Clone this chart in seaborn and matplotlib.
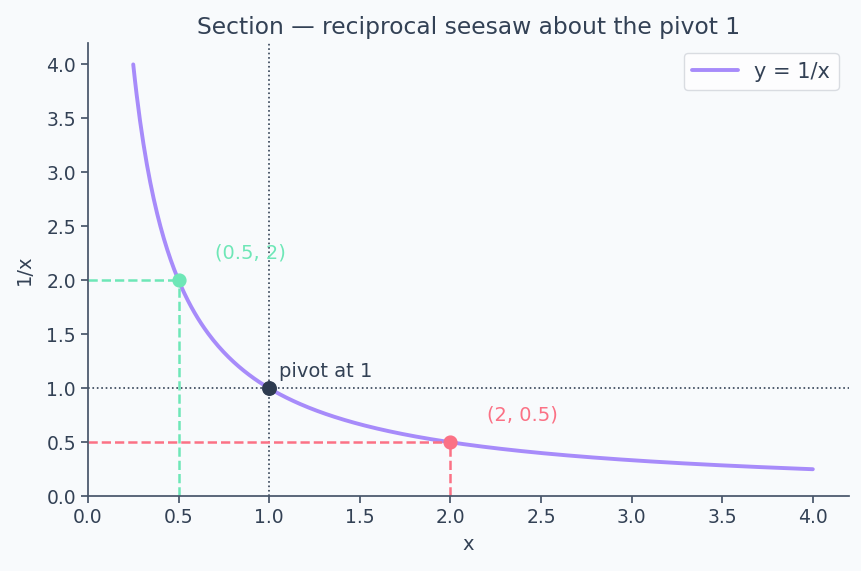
import numpy as np
import pandas as pd
import seaborn as sns
import matplotlib
matplotlib.use("Agg")
import matplotlib.pyplot as plt

# curve y = 1/x sampled on [0.25, 4]
x_start, x_end = 0.25, 4.0
# highlighted points
point_labels = ["(0.5, 2)", "(2, 0.5)"]
point_x = [0.5, 2.0]
point_y = [2.0, 0.5]
point_colors = ["#6ee7b7", "#fb7185"]
pivot_x, pivot_y = 1.0, 1.0

xs = np.linspace(x_start, x_end, 400)
curve = pd.DataFrame({"x": xs, "y": 1 / xs})

sns.set_theme(style="ticks")
plt.rcParams["font.family"] = ["DejaVu Sans"]
text_c = "#334155"
bg = "#f8fafc"

fig, ax = plt.subplots(figsize=(8.62, 5.71), dpi=100)
fig.patch.set_facecolor(bg)
ax.set_facecolor(bg)

sns.lineplot(data=curve, x="x", y="y", ax=ax, color="#a78bfa", lw=2.8, label="y = 1/x")

ax.axvline(pivot_x, color=text_c, ls=":", lw=1.2)
ax.axhline(pivot_y, color=text_c, ls=":", lw=1.2)

for lab, px, py, c in zip(point_labels, point_x, point_y, point_colors):
    ax.plot([0, px], [py, py], ls="--", color=c, lw=1.8)
    ax.plot([px, px], [0, py], ls="--", color=c, lw=1.8)
    ax.scatter([px], [py], color=c, s=85, zorder=5)
    ax.text(px + 0.2, py + 0.25, lab, color=c, fontsize=14, va="center")

ax.scatter([pivot_x], [pivot_y], color="#2d3a4f", s=95, zorder=6)
ax.annotate("pivot at 1", (pivot_x, pivot_y), xytext=(7, 8), textcoords="offset points",
            fontsize=14, color=text_c)

ax.set_xlim(0, 4.2)
ax.set_ylim(0, 4.2)
ax.set_xticks(np.arange(0, 4.01, 0.5))
ax.set_yticks(np.arange(0, 4.01, 0.5))
ax.set_xlabel("x", fontsize=14, color=text_c, labelpad=6)
ax.set_ylabel("1/x", fontsize=14, color=text_c, labelpad=9)
ax.set_title("Section — reciprocal seesaw about the pivot 1", fontsize=16.8, color=text_c)
ax.tick_params(labelsize=13.5, colors="#475569", labelcolor=text_c, length=5)
for s in ["left", "bottom"]:
    ax.spines[s].set_color("#475569")
sns.despine(ax=ax)

leg = ax.legend(loc="upper right", fontsize=15, frameon=True, handlelength=2.2)
leg.get_frame().set_facecolor("white")
leg.get_frame().set_edgecolor("#d1d5db")
for t in leg.get_texts():
    t.set_color(text_c)

fig.subplots_adjust(left=0.102, right=0.985, bottom=0.131, top=0.925)
fig.savefig("out.png", dpi=100, facecolor=bg)
